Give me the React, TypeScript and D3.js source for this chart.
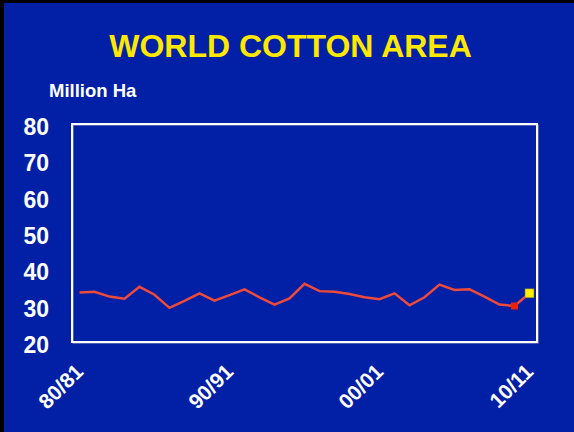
import React from "react";
import * as d3 from "d3";

const seasons: string[] = [
  "80/81","81/82","82/83","83/84","84/85","85/86","86/87","87/88","88/89","89/90",
  "90/91","91/92","92/93","93/94","94/95","95/96","96/97","97/98","98/99","99/00",
  "00/01","01/02","02/03","03/04","04/05","05/06","06/07","07/08","08/09","09/10",
  "10/11",
];
const area: number[] = [
  33.6, 33.8, 32.5, 31.9, 35.2, 33.0, 29.4, 31.3, 33.4, 31.4,
  32.9, 34.5, 32.3, 30.3, 32.0, 36.0, 34.0, 33.8, 33.2, 32.3,
  31.8, 33.4, 30.1, 32.3, 35.8, 34.3, 34.5, 32.5, 30.3, 29.9,
  33.4,
];
const xTickLabels: string[] = ["80/81", "90/91", "00/01", "10/11"];
const yTicks: number[] = [20, 30, 40, 50, 60, 70, 80];
const lastActual = "09/10";
const projection = "10/11";

const W = 574, H = 432;
const L = 72, T = 124, R = 537, B = 342;
const BG = "#0220A6";
const FONT = "Liberation Sans, Arial, Helvetica, sans-serif";

export default function App() {
  const x = d3.scalePoint<string>().domain(seasons).range([L, R]).padding(0.5);
  const y = d3.scaleLinear().domain([20, 80]).range([B, T]);
  const line = d3
    .line<number>()
    .x((_, i) => x(seasons[i]) as number)
    .y((d) => y(d));
  const redI = seasons.indexOf(lastActual);
  const yelI = seasons.indexOf(projection);
  return (
    <div style={{ position: "fixed", left: 0, top: 0 }}>
      <svg width={W} height={H} style={{ display: "block" }}>
        <rect x={0} y={0} width={W} height={H} fill="#000" />
        <rect x={4} y={3} width={W - 4} height={H - 3} fill={BG} />
        <text x={290.5} y={57} textAnchor="middle" fill="#FFE800" fontFamily={FONT} fontWeight="bold" fontSize={32}>
          WORLD COTTON AREA
        </text>
        <text x={49} y={97} fill="#fff" fontFamily={FONT} fontWeight="bold" fontSize={18.5}>
          Million Ha
        </text>
        {yTicks.map((t) => (
          <text key={t} x={49} y={y(t) + 11} textAnchor="end" fill="#fff" fontFamily={FONT} fontWeight="bold" fontSize={23}>
            {t}
          </text>
        ))}
        <rect x={L + 1} y={T + 1} width={R - L} height={B - T} fill="none" stroke="#9aa0b8" strokeWidth={1} />
        <rect x={L} y={T} width={R - L} height={B - T} fill="none" stroke="#fff" strokeWidth={2} />
        <path d={line(area) || ""} fill="none" stroke="#EE4A3A" strokeWidth={2.5} strokeLinejoin="miter" />
        <rect x={(x(seasons[redI]) as number) - 3.5} y={y(area[redI]) - 3.5} width={7} height={7} fill="#E8200C" />
        <rect x={(x(seasons[yelI]) as number) - 4.5} y={y(area[yelI]) - 4.5} width={9} height={9} fill="#FFEE00" stroke="#6a6a50" strokeWidth={0.6} />
        {xTickLabels.map((s) => {
          const px = (x(s) as number) + 5;
          const py = 373;
          return (
            <text key={s} x={px} y={py} transform={`rotate(-45 ${px} ${py})`} textAnchor="end" fill="#fff" fontFamily={FONT} fontWeight="bold" fontSize={21}>
              {s}
            </text>
          );
        })}
      </svg>
    </div>
  );
}
